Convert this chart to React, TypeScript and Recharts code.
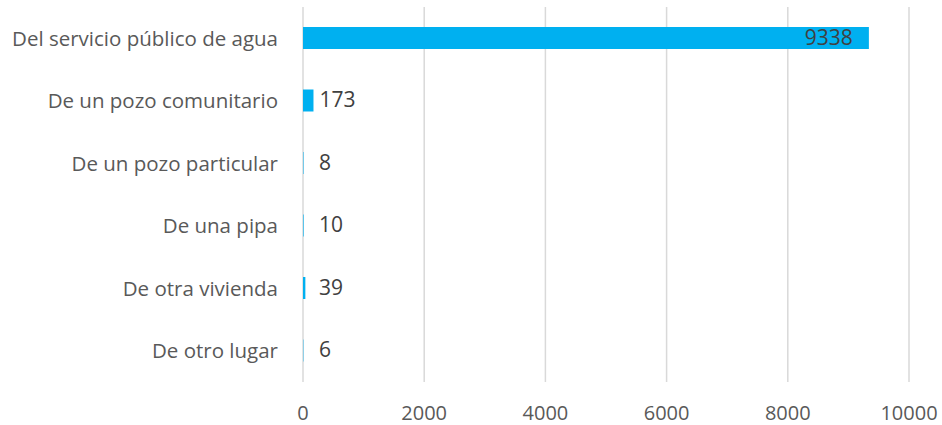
import { BarChart, Bar, XAxis, YAxis, CartesianGrid, LabelList } from 'recharts';

const categories = [
  'Del servicio público de agua',
  'De un pozo comunitario',
  'De un pozo particular',
  'De una pipa',
  'De otra vivienda',
  'De otro lugar',
];
const values = [9338, 173, 8, 10, 39, 6];
const xTicks = [0, 2000, 4000, 6000, 8000, 10000];

const data = categories.map((name, i) => ({ name, value: values[i] }));

const FONT = '"Open Sans", "Noto Sans", sans-serif';
const TEXT = '#595959';

function ValueLabel(props: any) {
  const { x, y, width, height, value } = props;
  const inside = value > 5000;
  const tx = inside ? x + width - 16 : Math.max(x + width + 6, x + 16);
  return (
    <text
      x={tx}
      y={y + height / 2 + 1}
      textAnchor={inside ? 'end' : 'start'}
      dominantBaseline="middle"
      fontSize={21}
      fontFamily={FONT}
      fill="#404040"
    >
      {value}
    </text>
  );
}

export default function App() {
  return (
    <div style={{ position: 'absolute', left: 0, top: 0, width: 942, height: 425, background: '#fff' }}>
      <BarChart
        width={942}
        height={425}
        data={data}
        layout="vertical"
        margin={{ top: 7, right: 33, left: 0, bottom: 13 }}
      >
        <CartesianGrid horizontal={false} stroke="#D9D9D9" strokeWidth={1.5} />
        <XAxis
          type="number"
          domain={[0, 10000]}
          ticks={xTicks}
          height={30}
          axisLine={false}
          tickLine={false}
          tickSize={0}
          tickMargin={24}
          tick={{ fontSize: 20, fill: TEXT, fontFamily: FONT }}
        />
        <YAxis
          type="category"
          dataKey="name"
          width={303}
          axisLine={false}
          tickLine={false}
          tickSize={0}
          tickMargin={25}
          tick={{ fontSize: 20.5, fill: TEXT, fontFamily: FONT }}
        />
        <Bar dataKey="value" fill="#00B0F0" barSize={22} isAnimationActive={false}>
          <LabelList dataKey="value" content={ValueLabel} />
        </Bar>
      </BarChart>
    </div>
  );
}
